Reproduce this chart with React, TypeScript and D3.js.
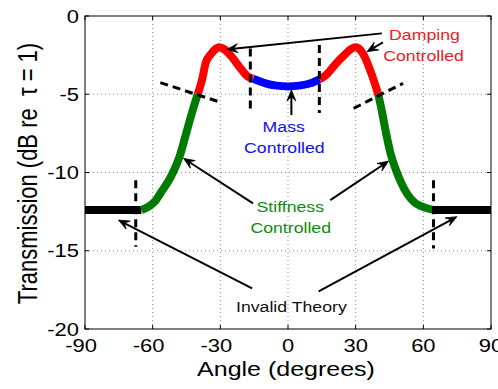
import React from "react";
import * as d3 from "d3";

// ---- data ----
const angle = [-90, -65, -62, -59, -56, -53, -51, -48, -46, -44, -42, -40, -38, -36.5, -34, -32, -30.5, -28, -25, -21, -18, -15.5, -10, -5, 0, 5, 10, 14, 17, 21.5, 25, 28, 30, 32, 34, 36, 38, 40, 41.5, 43.5, 45.5, 48, 50, 53, 56, 59, 62, 65, 90];
const transmission = [-12.4, -12.4, -12.2, -11.85, -11.2, -10.55, -10.0, -8.95, -7.95, -6.9, -5.9, -5.0, -4.0, -3.0, -2.4, -2.1, -2.0, -2.15, -2.6, -3.35, -3.85, -4.0, -4.3, -4.45, -4.5, -4.45, -4.3, -4.05, -3.75, -3.0, -2.5, -2.1, -2.0, -2.15, -2.6, -3.3, -4.1, -5.0, -6.0, -7.5, -8.8, -9.9, -10.6, -11.4, -11.9, -12.15, -12.3, -12.4, -12.4];
const regionBreaks = [-90, -65, -40, -15.5, 14, 40, 65, 90];
const regionNames = ["Invalid", "Stiffness", "Damping", "Mass", "Damping", "Stiffness", "Invalid"];

const xTicks = [-90, -60, -30, 0, 30, 60, 90];
const yTicks = [0, -5, -10, -15, -20];

// dashed boundary lines [x1, y1, x2, y2] in data units
const boundaryLines = [
  [-67.5, -10.5, -67.5, -14.75],
  [64.5, -10.5, 64.5, -14.85],
  [-16.7, -2.07, -16.7, -6.2],
  [13.9, -1.85, 13.9, -6.2],
  [-56.6, -4.26, -30.2, -5.5],
  [29.1, -5.9, 51, -4.3],
];
// annotation arrows [tailX, tailY, tipX, tipY]
const arrows = [
  [41.6, -1.11, -27.1, -2.13],
  [42.1, -1.68, 35, -2.28],
  [1.5, -6.33, 1.5, -4.73],
  [-15.5, -11.97, -46.3, -9.1],
  [18.75, -11.76, 44.6, -9.27],
  [-15.9, -17.4, -75.2, -13.04],
  [13.6, -17.6, 74.9, -12.82],
];
// labels [text, x, y, region]
const labels: [string, number, number, string][] = [
  ["Damping", 60.5, -1.53, "Damping"],
  ["Controlled", 60.1, -2.9, "Damping"],
  ["Mass", -1.9, -7.39, "Mass"],
  ["Controlled", -1.6, -8.73, "Mass"],
  ["Stiffness", 1.0, -12.5, "Stiffness"],
  ["Controlled", 1.2, -13.85, "Stiffness"],
  ["Invalid Theory", 1.5, -18.9, "Invalid"],
];

const lineColor: Record<string, string> = {
  Invalid: "#000000",
  Stiffness: "#007a00",
  Damping: "#ff0000",
  Mass: "#0000ff",
};
const textColor: Record<string, string> = {
  Invalid: "#111111",
  Stiffness: "#108a10",
  Damping: "#ee1c24",
  Mass: "#1010ee",
};

const FONT = "'Liberation Sans', Arial, Helvetica, sans-serif";
const SX = 1.22;

export default function App() {
  const W = 498, H = 389;
  const left = 85, right = 491, top = 16, bottom = 329;
  const x = d3.scaleLinear().domain([-90, 90]).range([left, right]);
  const y = d3.scaleLinear().domain([-20, 0]).range([bottom, top]);

  const pts = angle.map((a, i) => [a, transmission[i]] as [number, number]);
  const line = d3
    .line<[number, number]>()
    .x((d) => x(d[0]))
    .y((d) => y(d[1]))
    .curve(d3.curveMonotoneX);

  const segments = regionNames.map((name, i) => {
    const lo = regionBreaks[i], hi = regionBreaks[i + 1];
    const seg = pts.filter((p) => p[0] >= lo && p[0] <= hi);
    return { name, d: line(seg) || "" };
  });

  const arrowEls = arrows.map((a, i) => {
    const x0 = x(a[0]), y0 = y(a[1]), x1 = x(a[2]), y1 = y(a[3]);
    const dx = x1 - x0, dy = y1 - y0;
    const len = Math.hypot(dx, dy);
    const ux = dx / len, uy = dy / len;
    const nx = -uy, ny = ux;
    const L = 11, Wd = 4.5;
    const bx = x1 - ux * L, by = y1 - uy * L;
    const mx = x1 - ux * L * 0.6, my = y1 - uy * L * 0.6;
    const head = `M${x1},${y1}L${bx + nx * Wd},${by + ny * Wd}L${mx},${my}L${bx - nx * Wd},${by - ny * Wd}Z`;
    return (
      <g key={"ar" + i}>
        <line x1={x0} y1={y0} x2={mx} y2={my} stroke="#000" strokeWidth={2} />
        <path d={head} fill="#000" stroke="#000" strokeWidth={0.8} strokeLinejoin="round" />
      </g>
    );
  });

  return (
    <svg width={W} height={H} style={{ position: "absolute", left: 0, top: 0, background: "#fff" }} fontFamily={FONT}>
      <rect x={0} y={0} width={W} height={H} fill="#fff" />
      {/* grid */}
      {xTicks.slice(1, -1).map((t) => (
        <line key={"gx" + t} x1={x(t)} x2={x(t)} y1={top} y2={bottom} stroke="#8a8a8a" strokeWidth={1} strokeDasharray="1 3" />
      ))}
      {yTicks.slice(1, -1).map((t) => (
        <line key={"gy" + t} x1={left} x2={right} y1={y(t)} y2={y(t)} stroke="#8a8a8a" strokeWidth={1} strokeDasharray="1 3" />
      ))}
      {/* ticks */}
      {xTicks.map((t) => (
        <g key={"tx" + t}>
          <line x1={x(t)} x2={x(t)} y1={bottom} y2={bottom - 4} stroke="#000" />
          <line x1={x(t)} x2={x(t)} y1={top} y2={top + 4} stroke="#000" />
        </g>
      ))}
      {yTicks.map((t) => (
        <g key={"ty" + t}>
          <line x1={left} x2={left + 4} y1={y(t)} y2={y(t)} stroke="#000" />
          <line x1={right} x2={right - 4} y1={y(t)} y2={y(t)} stroke="#000" />
        </g>
      ))}
      <rect x={left} y={top} width={right - left} height={bottom - top} fill="none" stroke="#000" strokeWidth={1} />
      {/* curve */}
      {segments.map((s, i) => (
        <path key={"s" + i} d={s.d} fill="none" stroke={lineColor[s.name]} strokeWidth={8} strokeLinejoin="round" />
      ))}
      {/* dashed boundaries */}
      {boundaryLines.map((b, i) => (
        <line key={"b" + i} x1={x(b[0])} y1={y(b[1])} x2={x(b[2])} y2={y(b[3])} stroke="#000" strokeWidth={3} strokeDasharray="8 5" />
      ))}
      {arrowEls}
      {/* labels */}
      {labels.map((l, i) => (
        <text key={"l" + i} transform={`translate(${x(l[1])},${y(l[2])}) scale(${SX},1)`} textAnchor="middle" fontSize={14.5} fill={textColor[l[3]]}>
          {l[0]}
        </text>
      ))}
      {/* tick labels */}
      {xTicks.map((t) => (
        <text key={"xl" + t} transform={`translate(${x(t) + (t < 0 ? -4 : 0)},${bottom + 23}) scale(${SX},1)`} textAnchor="middle" fontSize={18} fill="#000">
          {t}
        </text>
      ))}
      {yTicks.map((t) => (
        <text key={"yl" + t} transform={`translate(${left - 6},${y(t) + 6.5}) scale(${SX},1)`} textAnchor="end" fontSize={18} fill="#000">
          {t}
        </text>
      ))}
      {/* axis labels */}
      <text transform={`translate(${(left + right) / 2 - 2},376) scale(${SX},1)`} textAnchor="middle" fontSize={20.5} fill="#000">
        Angle (degrees)
      </text>
      <text transform={`translate(36.5,${(top + bottom) / 2 + 1}) scale(${SX},1) rotate(-90)`} textAnchor="middle" fontSize={22} fill="#000" style={{ whiteSpace: "pre" }}>
        {"Transmission (dB re  τ = 1)"}
      </text>
    </svg>
  );
}
